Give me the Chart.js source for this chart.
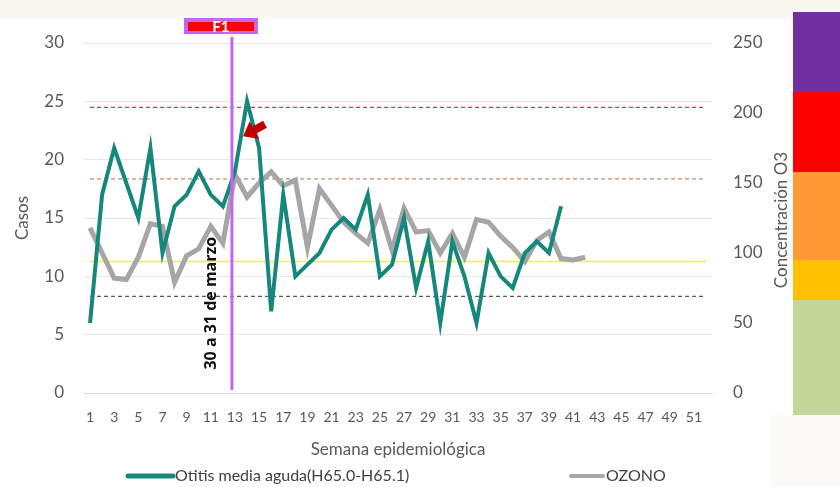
<!DOCTYPE html>
<html>
<head>
<meta charset="utf-8">
<script src="https://cdn.jsdelivr.net/npm/chart.js@4.4.0/dist/chart.umd.min.js"></script>
<style>
  html, body { margin: 0; padding: 0; background: #ffffff; }
  body { width: 840px; height: 487px; position: relative; overflow: hidden; }
  .top-band { position: absolute; left: 0; top: 0; width: 840px; height: 19px; background: #faf7f1; }
  .side-band { position: absolute; left: 770px; top: 415px; width: 70px; height: 72px; background: #fcfaf6; }
  #wrap { position: absolute; left: 0; top: 0; width: 792px; height: 487px; }
  .scale-bar { position: absolute; left: 793px; width: 47px; }
</style>
</head>
<body>
<div class="top-band"></div>
<div class="side-band"></div>
<div id="wrap"><canvas id="chart" width="792" height="487"></canvas></div>
<div class="scale-bar" style="top:12px;height:80px;background:#7030a0"></div>
<div class="scale-bar" style="top:92px;height:80px;background:#ff0000"></div>
<div class="scale-bar" style="top:172px;height:88px;background:#ff9933"></div>
<div class="scale-bar" style="top:260px;height:40px;background:#ffc000"></div>
<div class="scale-bar" style="top:300px;height:115px;background:#c4d79b"></div>

<script>
// Semana epidemiológica
const weeks = ['1','2','3','4','5','6','7','8','9','10','11','12','13','14','15','16','17','18','19','20',
  '21','22','23','24','25','26','27','28','29','30','31','32','33','34','35','36','37','38','39','40',
  '41','42','43','44','45','46','47','48','49','50','51','52'];

// Casos de otitis media aguda (eje izquierdo)
const otitis = [6, 17, 21, 18, 15, 21, 12, 16, 17, 19, 17, 16, 19, 25, 21, 7, 17, 10, 11, 12,
  14, 15, 14, 17, 10, 11, 15, 9, 13, 6, 13, 10, 6, 12, 10, 9, 12, 13, 12, 16];

// Concentración de ozono (eje derecho)
const ozono = [118, 100, 82, 81, 97, 121, 119, 79, 98, 103, 119, 107, 156, 140, 150, 158, 148, 152, 104, 146,
  134, 122, 114, 107, 131, 102, 132, 115, 116, 100, 114, 97, 124, 122, 112, 104, 94, 109, 115, 96,
  95, 97];

// Umbrales de ozono (líneas punteadas)
const thresholdValues = [204, 153, 94, 69];
const thresholdColors = ['#e8383d', '#cc8a64', '#f2f23a', '#55604f'];
const thresholdDash = [[4, 3], [4, 3], [], [4, 3]];

const leftTicks = [0, 5, 10, 15, 20, 25, 30];
const rightTicks = [0, 50, 100, 150, 200, 250];

const markerWeekIndex = 11.75;   // semana del 30 a 31 de marzo
const markerLabel = 'F1';
const markerText = '30 a 31 de marzo';
const rightTitle = 'Concentración O3';

const textColor = '#595959';
const fontFamily = 'Lato, "Open Sans", sans-serif';

const thresholdSets = thresholdValues.map((v, i) => ({
  label: 'umbral' + i,
  data: weeks.map(() => v),
  yAxisID: 'y1',
  borderColor: thresholdColors[i],
  borderWidth: i === 2 ? 1.5 : 1.3,
  borderDash: thresholdDash[i],
  pointRadius: 0,
  order: 5
}));

const overlay = {
  id: 'overlay',
  afterDatasetsDraw(chart) {
    const { ctx, chartArea, scales } = chart;
    const x = scales.x.getPixelForValue(markerWeekIndex);

    // vertical marker
    ctx.save();
    ctx.strokeStyle = '#c466f5';
    ctx.lineWidth = 3;
    ctx.beginPath();
    ctx.moveTo(x, chartArea.top - 6);
    ctx.lineTo(x, chartArea.bottom - 3);
    ctx.stroke();

    // F1 label box
    const bx = x - 11;
    ctx.fillStyle = '#c466f5';
    ctx.fillRect(bx - 37, 18, 74, 16);
    ctx.fillStyle = '#ff0000';
    ctx.fillRect(bx - 33, 22, 66, 9);
    ctx.fillStyle = '#ffffff';
    ctx.font = 'bold 15px Lato, sans-serif';
    ctx.textAlign = 'center';
    ctx.textBaseline = 'middle';
    ctx.fillText(markerLabel, bx, 27);

    // rotated date text
    ctx.translate(x - 21, scales.y.getPixelForValue(7.7));
    ctx.rotate(-Math.PI / 2);
    ctx.fillStyle = '#111111';
    ctx.font = 'bold 16px "Open Sans", sans-serif';
    ctx.fillText(markerText, 0, 0);
    ctx.restore();

    // red arrow pointing at the peak
    const tipX = scales.x.getPixelForValue(13) - 4;
    const tipY = scales.y.getPixelForValue(22);
    ctx.save();
    ctx.translate(tipX, tipY);
    ctx.rotate(Math.atan2(-12, 22));
    ctx.fillStyle = '#c00000';
    ctx.beginPath();
    ctx.moveTo(0, 0);
    ctx.lineTo(13, -10);
    ctx.lineTo(13, -4);
    ctx.lineTo(25, -4);
    ctx.lineTo(25, 4);
    ctx.lineTo(13, 4);
    ctx.lineTo(13, 10);
    ctx.closePath();
    ctx.fill();
    ctx.restore();
  },
  afterDraw(chart) {
    const { ctx, chartArea } = chart;
    const y = 476;
    ctx.save();
    ctx.lineCap = 'round';
    ctx.lineWidth = 5;
    ctx.strokeStyle = '#15877c';
    ctx.beginPath(); ctx.moveTo(128, y); ctx.lineTo(173, y); ctx.stroke();
    ctx.lineWidth = 4;
    ctx.strokeStyle = '#a6a6a6';
    ctx.beginPath(); ctx.moveTo(571, y); ctx.lineTo(603, y); ctx.stroke();
    ctx.fillStyle = '#404040';
    ctx.font = '16px ' + fontFamily;
    ctx.textAlign = 'left';
    ctx.textBaseline = 'middle';
    ctx.fillText('Otitis media aguda(H65.0-H65.1)', 175, y);
    ctx.fillText('OZONO', 606, y);

    // right axis title, read bottom to top
    ctx.translate(782, (chartArea.top + chartArea.bottom) / 2 + 2);
    ctx.rotate(-Math.PI / 2);
    ctx.fillStyle = textColor;
    ctx.font = '17px ' + fontFamily;
    ctx.textAlign = 'center';
    ctx.fillText(rightTitle, 0, 0);
    ctx.restore();
  }
};

new Chart(document.getElementById('chart'), {
  type: 'line',
  data: {
    labels: weeks,
    datasets: [
      {
        label: 'Otitis media aguda(H65.0-H65.1)',
        data: otitis,
        yAxisID: 'y',
        borderColor: '#15877c',
        borderWidth: 4,
        pointRadius: 0,
        tension: 0,
        order: 1
      },
      {
        label: 'OZONO',
        data: ozono,
        yAxisID: 'y1',
        borderColor: '#a6a6a6',
        borderWidth: 5,
        pointRadius: 0,
        tension: 0,
        order: 2
      },
      ...thresholdSets
    ]
  },
  options: {
    responsive: false,
    animation: false,
    layout: { padding: { left: 0, right: 0, top: 43, bottom: 22 } },
    plugins: {
      legend: { display: false },
      tooltip: { enabled: false }
    },
    scales: {
      x: {
        offset: true,
        grid: { display: false, drawTicks: false },
        border: { display: true, color: '#d9d9d9', width: 1 },
        ticks: {
          autoSkip: false,
          maxRotation: 0,
          padding: 16,
          color: textColor,
          font: { family: fontFamily, size: 14 },
          callback: (v, i) => (i % 2 === 0 ? weeks[i] : '')
        },
        title: {
          display: true,
          text: 'Semana epidemiológica',
          color: textColor,
          font: { family: fontFamily, size: 17 },
          padding: { top: 0, bottom: 5 }
        },
        afterFit: s => { s.height = 72; }
      },
      y: {
        position: 'left',
        min: 0,
        max: 30,
        afterBuildTicks: s => { s.ticks = leftTicks.map(v => ({ value: v })); },
        grid: { color: '#e8e8e8', drawTicks: false },
        border: { display: false },
        ticks: {
          padding: 20,
          color: textColor,
          font: { family: fontFamily, size: 17 }
        },
        title: {
          display: true,
          text: 'Casos',
          color: textColor,
          font: { family: fontFamily, size: 17 },
          padding: { top: 12, bottom: 0 }
        },
        afterFit: s => { s.width = 84; }
      },
      y1: {
        position: 'right',
        min: 0,
        max: 250,
        afterBuildTicks: s => { s.ticks = rightTicks.map(v => ({ value: v })); },
        grid: { display: false, drawTicks: false },
        border: { display: false },
        ticks: {
          padding: 21,
          color: textColor,
          font: { family: fontFamily, size: 17 }
        },
        afterFit: s => { s.width = 80; }
      }
    }
  },
  plugins: [overlay]
});
</script>
</body>
</html>
